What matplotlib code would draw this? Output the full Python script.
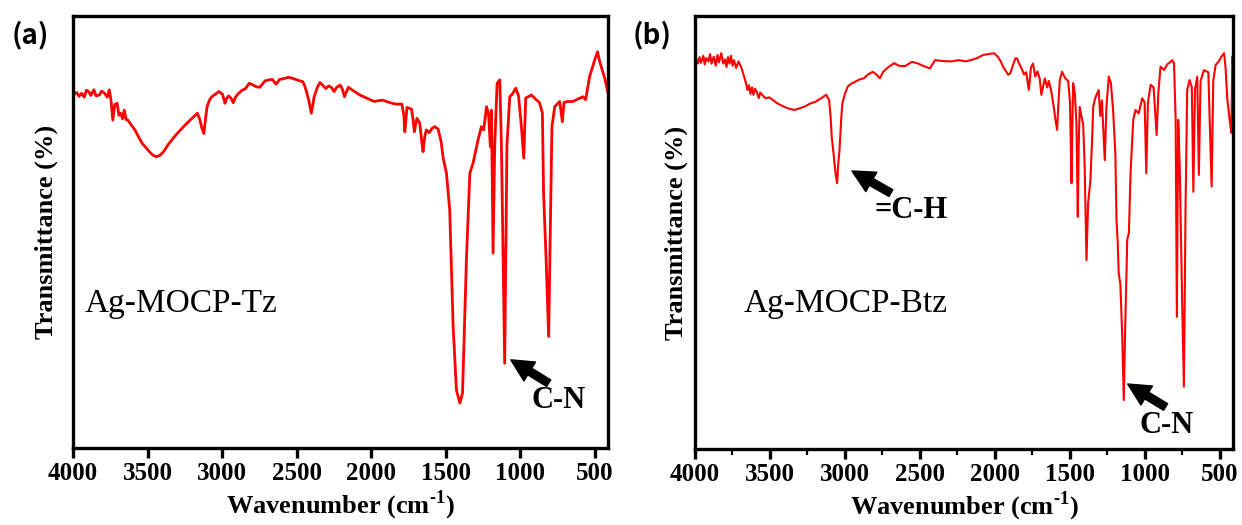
import matplotlib
matplotlib.use("Agg")
import matplotlib.pyplot as plt
from matplotlib.ticker import MultipleLocator

# ---------------- data ----------------
wn_a = [3996, 3975, 3960, 3943, 3925, 3910, 3895, 3880, 3860, 3845, 3824, 3808, 3788, 3770, 3757,
        3745, 3733, 3720, 3704, 3692, 3680, 3668, 3656, 3644, 3632, 3610, 3584, 3560, 3536, 3510,
        3488, 3465, 3440, 3415, 3392, 3360, 3321, 3285, 3249, 3205, 3165, 3148, 3135, 3122, 3110,
        3100, 3085, 3069, 3040, 3021, 2997, 2980, 2970, 2957, 2940, 2925, 2910, 2889, 2865, 2842,
        2818, 2790, 2770, 2746, 2730, 2710, 2685, 2662, 2638, 2614, 2585, 2554, 2530, 2506, 2480,
        2458, 2445, 2430, 2415, 2401, 2390, 2382, 2360, 2343, 2320, 2303, 2285, 2267, 2248, 2230,
        2207, 2192, 2178, 2165, 2152, 2115, 2075, 2030, 1979, 1950, 1920, 1880, 1836, 1793, 1780,
        1773, 1766, 1759, 1740, 1728, 1718, 1709, 1700, 1692, 1673, 1660, 1651, 1640, 1629, 1610,
        1590, 1572, 1550, 1530, 1516, 1494, 1472, 1449, 1427, 1404, 1386, 1360, 1337, 1315, 1282,
        1259, 1244, 1225, 1212, 1199, 1192, 1181, 1170, 1154, 1136, 1125, 1103, 1088, 1069, 1050,
        1029, 1010, 991, 975, 962, 924, 891, 870, 850, 842, 825, 808, 795, 786, 767,
        734, 716, 705, 680, 645, 610, 578, 560, 533, 499, 480, 466, 432, 421, 412]
t_a = [81.7, 82.3, 81.4, 82.1, 81.2, 82.8, 82.5, 81.6, 82.9, 81.5, 81.7, 82.6, 82.1, 81.2, 82.9,
       80.5, 75.9, 79.5, 79.8, 77.0, 77.5, 76.2, 78.2, 76.0, 75.9, 74.8, 73.6, 72.0, 70.5, 69.5,
       68.6, 67.8, 67.4, 67.8, 68.6, 70.3, 72.0, 73.4, 74.7, 76.2, 77.5, 75.9, 74.0, 72.8, 76.5,
       79.0, 80.5, 81.3, 82.0, 82.5, 81.9, 79.8, 80.8, 81.5, 81.0, 79.9, 81.2, 82.1, 82.8, 83.2,
       84.4, 84.0, 83.6, 83.5, 84.2, 85.0, 85.2, 85.3, 84.2, 85.3, 85.5, 85.8, 85.6, 85.3, 85.0,
       84.8, 83.8, 82.1, 80.0, 77.5, 79.5, 81.3, 83.5, 84.6, 83.8, 83.2, 83.8, 83.5, 82.5, 83.5,
       84.0, 83.0, 81.3, 82.5, 83.5, 82.6, 81.7, 81.0, 80.2, 80.4, 80.5, 80.0, 79.6, 79.6, 77.0,
       73.2, 76.0, 78.8, 78.6, 78.4, 76.0, 73.2, 75.0, 76.3, 75.2, 71.0, 68.6, 72.0, 73.6, 73.0,
       74.0, 74.4, 73.8, 71.0, 67.1, 63.6, 55.1, 28.1, 13.4, 10.4, 12.7, 43.5, 63.6, 66.0, 71.3,
       74.4, 73.6, 79.0, 77.5, 69.7, 78.2, 45.1, 70.0, 84.4, 85.2, 70.0, 19.6, 70.0, 81.3, 82.0,
       83.3, 81.5, 74.4, 67.1, 81.0, 81.7, 80.6, 80.0, 77.5, 59.0, 43.5, 25.8, 55.0, 74.4, 79.0,
       80.2, 75.5, 80.0, 80.2, 80.2, 80.8, 81.3, 80.6, 86.0, 89.8, 91.7, 89.5, 85.6, 84.0, 82.5]

wn_b = [3993, 3980, 3970, 3960, 3945, 3935, 3925, 3910, 3900, 3890, 3875, 3862, 3850, 3840, 3825,
        3812, 3800, 3790, 3780, 3770, 3760, 3750, 3740, 3725, 3710, 3690, 3676, 3660, 3650, 3640,
        3630, 3620, 3610, 3600, 3588, 3575, 3565, 3552, 3530, 3505, 3481, 3450, 3410, 3375, 3338,
        3300, 3267, 3230, 3195, 3160, 3124, 3105, 3095, 3088, 3075, 3062, 3052, 3044, 3036, 3025,
        3017, 3000, 2981, 2960, 2933, 2905, 2874, 2845, 2814, 2790, 2767, 2745, 2710, 2671, 2640,
        2600, 2552, 2510, 2480, 2433, 2398, 2350, 2290, 2240, 2195, 2160, 2124, 2076, 2040, 2005,
        1980, 1960, 1945, 1930, 1910, 1896, 1880, 1862, 1851, 1838, 1820, 1805, 1790, 1773, 1758,
        1745, 1730, 1715, 1700, 1689, 1676, 1666, 1650, 1640, 1625, 1607, 1595, 1584, 1575, 1566,
        1551, 1530, 1510, 1498, 1488, 1482, 1477, 1465, 1455, 1446, 1440, 1433, 1420, 1410, 1400,
        1388, 1377, 1362, 1350, 1343, 1330, 1307, 1296, 1285, 1266, 1255, 1239, 1225, 1210, 1195,
        1188, 1180, 1173, 1162, 1150, 1139, 1130, 1116, 1105, 1094, 1076, 1061, 1040, 1016, 1000,
        989, 978, 960, 940, 920, 909, 894, 870, 850, 830, 816, 804, 793, 785, 776,
        766, 749, 738, 727, 716, 700, 685, 675, 664, 649, 638, 627, 604, 575, 553,
        542, 526, 505, 488, 470, 460, 448, 430, 421, 415, 408]
t_b = [90.2, 89.0, 90.5, 89.2, 90.8, 88.8, 90.3, 89.5, 91.2, 89.0, 90.6, 88.5, 91.0, 89.3, 91.4,
       89.0, 90.0, 88.2, 90.5, 89.0, 90.8, 88.5, 89.8, 88.0, 89.5, 88.0, 86.4, 84.5, 82.9, 84.0,
       82.0, 83.5, 81.8, 83.2, 82.5, 81.0, 82.3, 81.8, 81.0, 81.2, 80.6, 79.8, 79.1, 78.6, 78.3,
       78.7, 79.1, 79.8, 80.2, 81.0, 81.8, 80.5, 76.5, 72.1, 68.0, 63.5, 61.4, 66.0, 69.0, 76.0,
       79.8, 82.0, 83.7, 84.3, 84.8, 85.3, 85.6, 86.5, 87.1, 86.5, 85.6, 87.1, 88.2, 89.1, 88.5,
       88.4, 89.4, 89.0, 88.5, 87.9, 89.8, 89.6, 89.5, 89.8, 89.5, 89.8, 90.2, 91.0, 91.2, 91.4,
       90.6, 89.5, 88.3, 87.5, 86.4, 86.8, 88.5, 90.2, 90.2, 89.0, 87.8, 86.5, 87.0, 82.9, 88.2,
       89.0, 86.0, 87.2, 85.5, 81.8, 84.0, 85.6, 83.5, 85.0, 83.0, 79.1, 76.0, 73.7, 80.0, 85.2,
       87.1, 85.6, 85.0, 80.0, 61.4, 75.0, 84.5, 82.0, 75.0, 53.6, 70.0, 79.0, 76.5, 75.0, 65.0,
       43.6, 56.8, 62.0, 72.0, 79.1, 81.0, 82.9, 76.9, 80.5, 66.7, 79.0, 86.0, 84.5, 78.0, 68.0,
       52.9, 48.0, 40.6, 38.0, 26.8, 11.3, 27.5, 48.3, 50.0, 63.7, 76.0, 78.3, 77.5, 81.0, 80.0,
       63.7, 80.0, 84.1, 83.5, 72.5, 82.0, 88.3, 87.5, 88.8, 89.3, 89.8, 89.1, 76.0, 30.5, 76.0,
       65.2, 32.9, 14.4, 56.0, 82.9, 85.2, 83.5, 59.4, 83.0, 86.0, 63.3, 85.0, 87.5, 87.0, 60.6,
       85.0, 88.7, 89.5, 90.6, 91.4, 88.0, 80.6, 75.2, 73.0, 90.6, 88.0]

xticks = [4000, 3500, 3000, 2500, 2000, 1500, 1000, 500]
panel_labels = ["(a)", "(b)"]
sample_names = ["Ag-MOCP-Tz", "Ag-MOCP-Btz"]

# ---------------- figure ----------------
SERIF = ["Liberation Serif", "DejaVu Serif"]
plt.rcParams["font.family"] = SERIF
plt.rcParams["mathtext.fontset"] = "custom"
plt.rcParams["mathtext.rm"] = "Liberation Serif:bold"
plt.rcParams["mathtext.bf"] = "Liberation Serif:bold"

fig = plt.figure(figsize=(12.42, 5.25), dpi=100)
ax_a = fig.add_axes([0.0588, 0.1467, 0.4307, 0.8229])
ax_b = fig.add_axes([0.5596, 0.1448, 0.4332, 0.8248])


def style(ax, minor, labelpad_y):
    ax.set_xlim(4000, 410)
    ax.set_ylim(0, 100)
    ax.set_xticks(xticks)
    ax.set_yticks([])
    for s in ax.spines.values():
        s.set_linewidth(2.4)
    ax.tick_params(axis="x", direction="out", length=7, width=2.4, pad=3)
    if minor:
        ax.xaxis.set_minor_locator(MultipleLocator(250))
        ax.tick_params(axis="x", which="minor", direction="out", length=4, width=1.6)
    for lab in ax.get_xticklabels():
        lab.set_fontweight("bold")
        lab.set_fontsize(18)
    ax.set_xlabel(r"Wavenumber (cm$^{\text{-1}}$)", fontsize=19, fontweight="bold", labelpad=3)
    ax.set_ylabel("Transmittance (%)", fontsize=19, fontweight="bold", labelpad=labelpad_y)


ax_a.plot(wn_a, t_a, color="#ff0000", lw=2.0)
style(ax_a, False, 11)
ax_b.plot(wn_b, t_b, color="#ff0000", lw=1.5)
style(ax_b, True, 5)

# sample names
ax_a.text(3920, 33.5, sample_names[0], fontsize=24, ha="left", va="center")
ax_b.text(3673, 33.5, sample_names[1], fontsize=24, ha="left", va="center")

arrow = dict(arrowstyle="simple,head_length=1.0,head_width=1.0,tail_width=0.35",
             fc="black", ec="black", shrinkA=0, shrinkB=0, mutation_scale=16)

# annotations panel a
ax_a.annotate("", xy=(1062, 20.4), xytext=(808, 15.0), arrowprops=arrow)
ax_a.text(740, 11.0, "C-N", fontsize=22, fontweight="bold", ha="center", va="center")

# annotations panel b
ax_b.annotate("", xy=(2953, 64.2), xytext=(2693, 59.1), arrowprops=arrow)
ax_b.text(2560, 55.0, "=C-H", fontsize=22, fontweight="bold", ha="center", va="center")
ax_b.annotate("", xy=(1113, 15.0), xytext=(860, 9.7), arrowprops=arrow)
ax_b.text(853, 5.5, "C-N", fontsize=22, fontweight="bold", ha="center", va="center")

# panel labels
LBL = ["Noto Sans CJK SC", "DejaVu Sans"]
fig.text(0.0097, 0.934, panel_labels[0], fontsize=20, family=LBL, fontweight="bold",
         ha="left", va="center")
fig.text(0.5097, 0.934, panel_labels[1], fontsize=20, family=LBL, fontweight="bold",
         ha="left", va="center")

fig.savefig("out.png", dpi=100)
